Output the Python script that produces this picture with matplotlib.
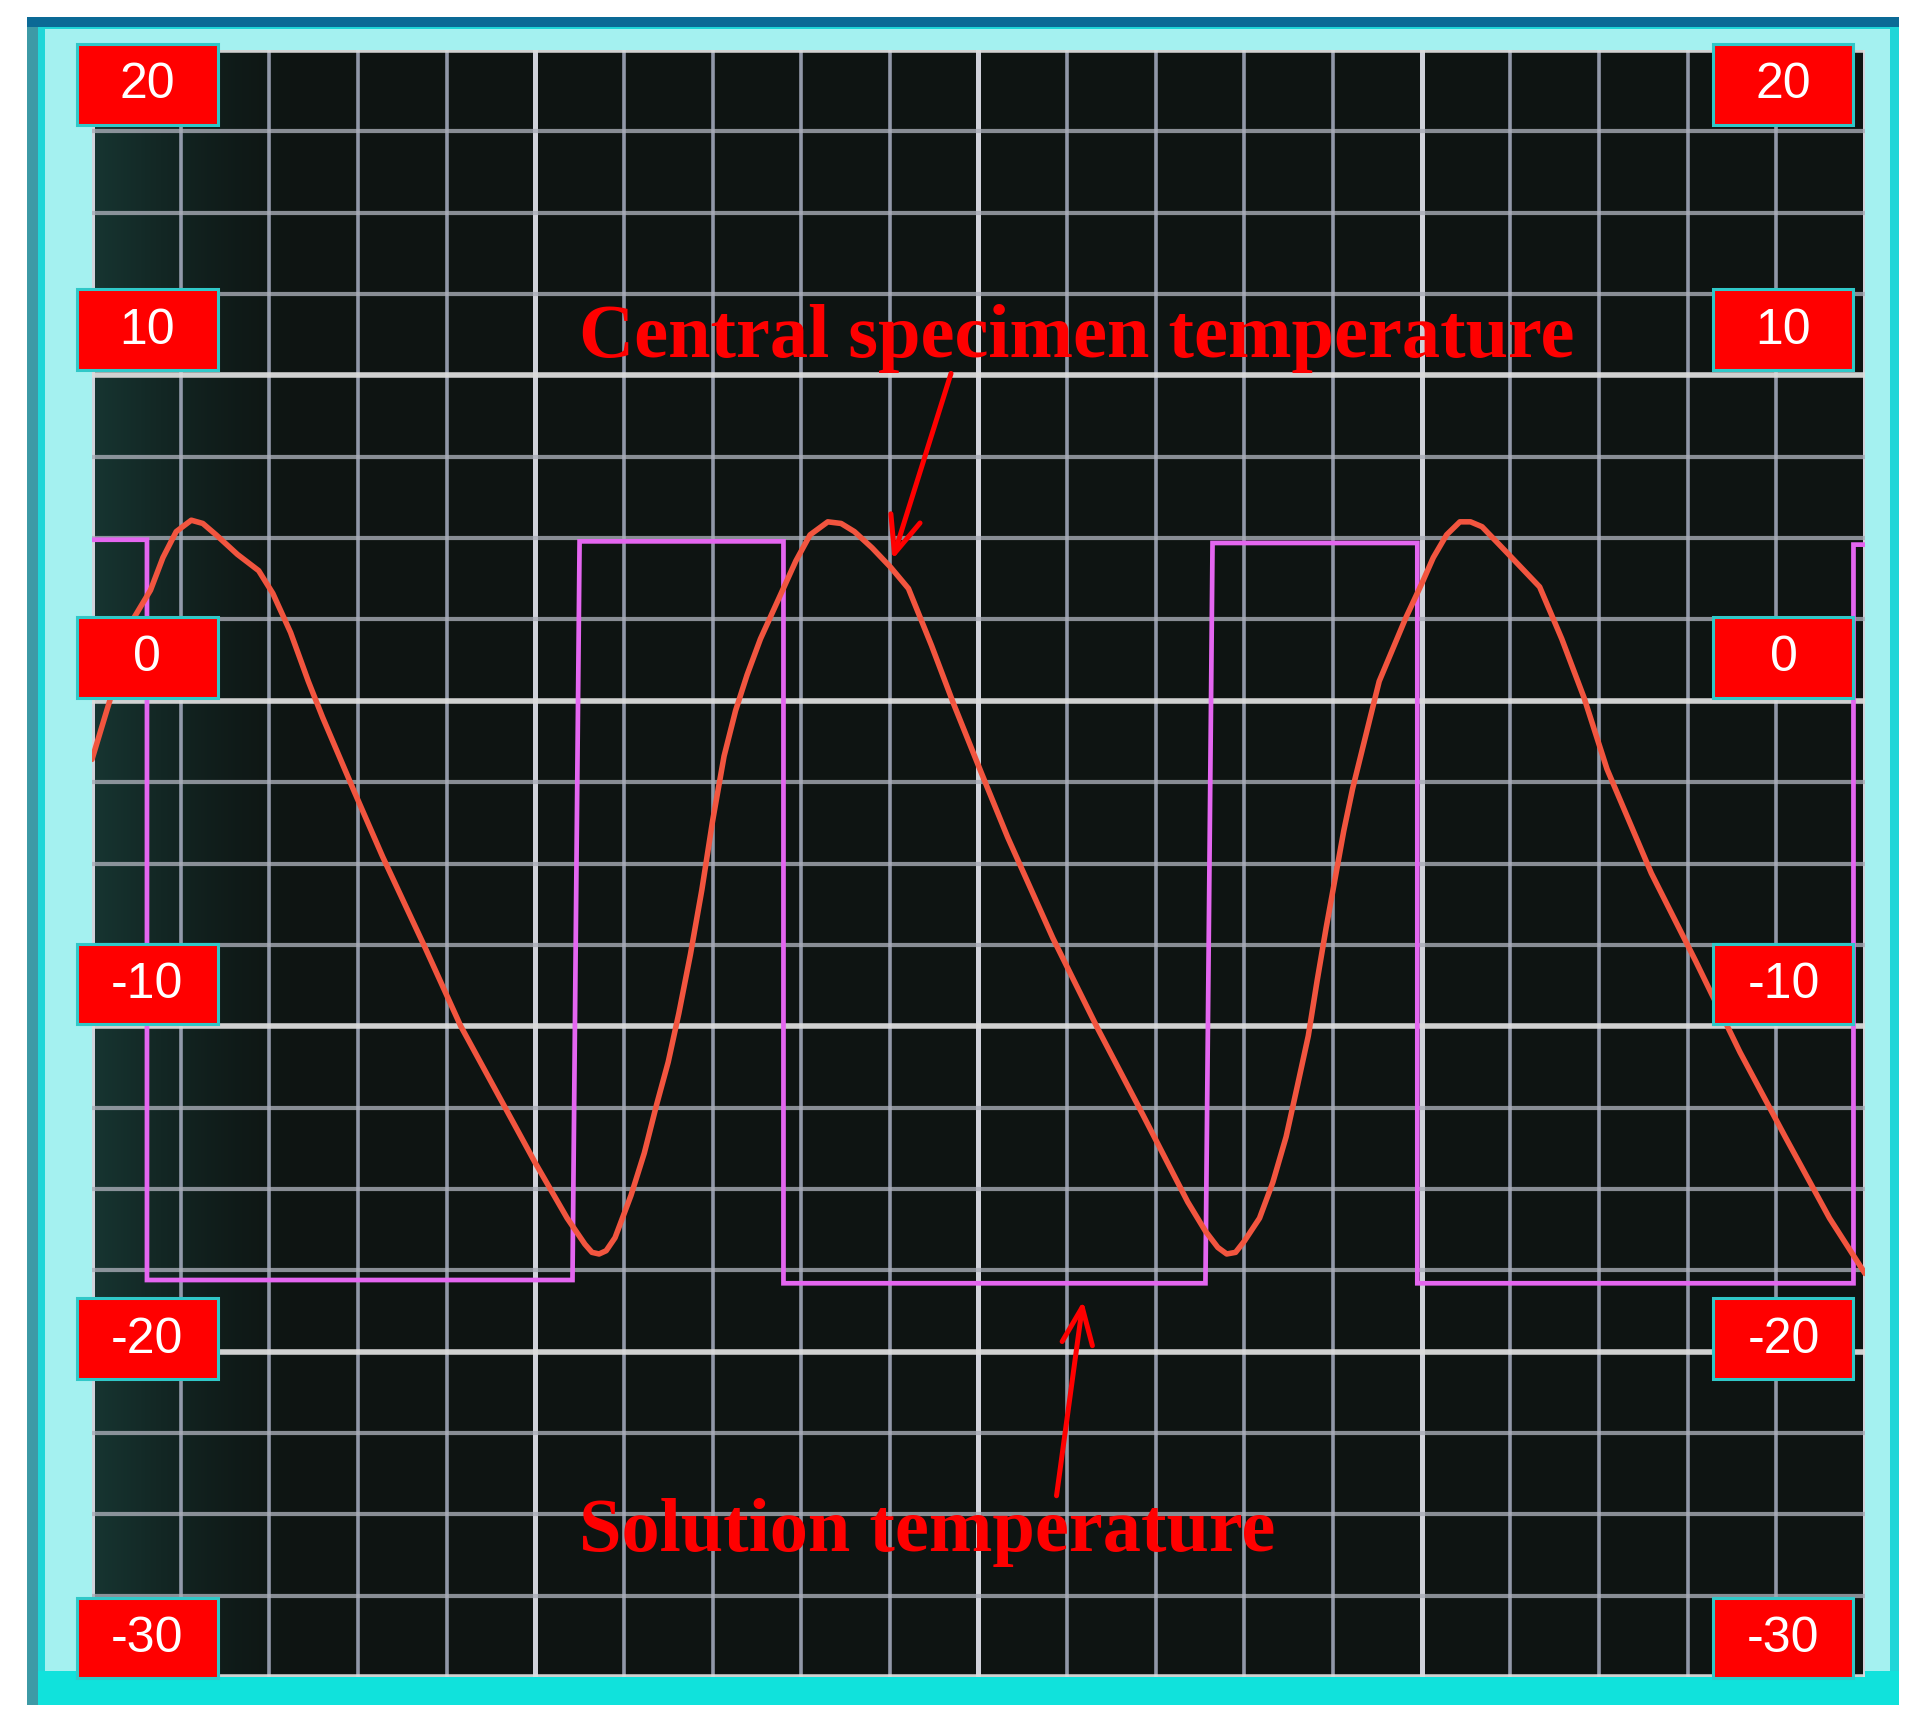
import matplotlib
matplotlib.use('Agg')
import matplotlib.pyplot as plt
from matplotlib.patches import Rectangle
import numpy as np

W, H = 1921, 1731
DPI = 100

# ---- data (x in horizontal divisions, y in degrees) ----
red_x = [0.0, 0.2, 0.44, 0.66, 0.8, 0.95, 1.12, 1.25, 1.4, 1.64, 1.88, 2.04, 2.24, 2.44, 2.6,
         2.96, 3.28, 3.76, 4.16, 4.56, 5.0, 5.36, 5.56, 5.64, 5.72, 5.8, 5.9, 6.08, 6.23,
         6.37, 6.5, 6.62, 6.75, 6.88, 7.0, 7.13, 7.26, 7.39, 7.54, 7.69, 7.94, 8.1,
         8.3, 8.45, 8.6, 8.8, 9.01, 9.21, 9.47, 9.72, 10.03, 10.33, 10.84, 11.35, 11.85,
         12.36, 12.56, 12.7, 12.8, 12.9, 13.0, 13.17, 13.32, 13.47, 13.6, 13.72, 13.82,
         13.92, 14.02, 14.12, 14.22, 14.32, 14.52, 14.82, 15.0, 15.13, 15.28, 15.43,
         15.55, 15.68, 15.98, 16.33, 16.58, 16.83, 17.09, 17.59, 18.09, 18.59, 19.1,
         19.6, 20.0]
red_y = [-1.8, 0.0, 2.4, 3.4, 4.4, 5.2, 5.55, 5.45, 5.1, 4.5, 4.0, 3.3, 2.1, 0.6, -0.5,
         -2.8, -4.8, -7.6, -10.0, -12.0, -14.2, -15.9, -16.7, -16.95, -17.0, -16.9, -16.5, -15.2,
         -13.9, -12.4, -11.1, -9.6, -7.8, -5.8, -3.7, -1.7, -0.3, 0.8, 1.9, 2.8, 4.3, 5.1,
         5.5, 5.45, 5.2, 4.7, 4.1, 3.45, 1.7, -0.1, -2.2, -4.2, -7.3, -10.1, -12.7,
         -15.4, -16.3, -16.8, -17.0, -16.95, -16.6, -15.9, -14.8, -13.4, -11.8, -10.3, -8.6,
         -7.0, -5.5, -4.0, -2.7, -1.6, 0.6, 2.55, 3.6, 4.4, 5.1, 5.5,
         5.5, 5.35, 4.5, 3.5, 1.9, 0.1, -2.1, -5.3, -8.0, -10.8, -13.4,
         -15.9, -17.6]

sq_x = [0.0, 0.62, 0.62, 5.42, 5.5, 7.8, 7.8, 12.56, 12.64, 14.95, 14.95, 19.87, 19.87, 20.0]
sq_y = [4.95, 4.95, -17.8, -17.8, 4.9, 4.9, -17.9, -17.9, 4.85, 4.85, -17.9, -17.9, 4.8, 4.8]

tick_labels = ['20', '10', '0', '-10', '-20', '-30']
label_centers = [18.94, 11.4, 1.34, -8.7, -19.6, -28.8]

text_central = 'Central specimen temperature'
text_solution = 'Solution temperature'

# ---- figure ----
fig = plt.figure(figsize=(W / DPI, H / DPI), dpi=DPI, facecolor='white')


def frect(x0, y0, x1, y1, color):
    fig.patches.append(Rectangle((x0 / W, 1 - y1 / H), (x1 - x0) / W, (y1 - y0) / H,
                                 transform=fig.transFigure, facecolor=color,
                                 edgecolor='none', zorder=-10))


# monitor frame
frect(27, 18, 1899, 1706, '#1fd6d8')
frect(27, 18, 38, 1706, '#3d9aa6')
frect(27, 18, 1899, 28, '#0b6a96')
frect(45, 30, 1890, 1675, '#a4f1f0')
frect(38, 1672, 1899, 1706, '#10e2dc')

ax = fig.add_axes([92 / W, 1 - 1678 / H, (1865 - 92) / W, (1678 - 51) / H])
ax.set_zorder(1)
ax.set_facecolor('#0e1412')
ax.set_xlim(0, 20)
ax.set_ylim(-30, 20)
for s in ax.spines.values():
    s.set_visible(False)
ax.set_xticks([])
ax.set_yticks([])

# faint teal screen glow on the left
ramp = np.linspace(1, 0, 256) ** 1.5
glow = np.zeros((1, 256, 4))
glow[..., 0] = 0.12
glow[..., 1] = 0.32
glow[..., 2] = 0.30
glow[..., 3] = 0.55 * ramp
ax.imshow(glow, extent=[0, 2.5, -30, 20], aspect='auto', zorder=0.5, interpolation='bilinear')

# grid
for i in range(21):
    major = i % 5 == 0
    ax.axvline(i, color='#dcdde6' if major else '#a9b0c4',
               lw=3.6 if major else 2.6, alpha=0.95 if major else 0.85, zorder=1)
for v in np.arange(-30, 20.01, 2.5):
    major = abs(v % 10) < 1e-6
    ax.axhline(v, color='#dcdcdc' if major else '#a8acb6',
               lw=4.0 if major else 3.0, alpha=0.95 if major else 0.8, zorder=1)

# traces
ax.plot(sq_x, sq_y, color='#e466f0', lw=3.4, zorder=3, solid_joinstyle='miter')
ax.plot(red_x, red_y, color='#f2553f', lw=4.0, zorder=4,
        solid_joinstyle='round', solid_capstyle='round')

# value boxes
for lab, yc in zip(tick_labels, label_centers):
    for x0, x1 in [(-0.17, 1.42), (18.29, 19.87)]:
        ax.add_patch(Rectangle((x0, yc - 1.24), x1 - x0, 2.48, facecolor='#ff0000',
                               edgecolor='#30c8c8', lw=2.2, clip_on=False, zorder=6))
        ax.text((x0 + x1) / 2, yc, lab, color='white', fontsize=36,
                family='Liberation Sans', ha='center', va='center',
                zorder=7, clip_on=False)

# annotations
ax.text(5.49, 10.6, text_central, color='#ff0000', fontsize=55,
        family='Liberation Serif', fontweight='bold', ha='left', va='baseline', zorder=8)
ax.text(5.49, -26.1, text_solution, color='#ff0000', fontsize=55,
        family='Liberation Serif', fontweight='bold', ha='left', va='baseline', zorder=8)

arrow_kw = dict(arrowstyle='->,head_length=1.2,head_width=0.5', color='#ff0000',
                lw=3.6, mutation_scale=22, shrinkA=0, shrinkB=0)
ax.annotate('', xy=(9.03, 4.34), xytext=(9.69, 10.06), arrowprops=arrow_kw, zorder=8)
ax.annotate('', xy=(11.18, -18.44), xytext=(10.88, -24.43), arrowprops=arrow_kw, zorder=8)

fig.savefig('out.png', dpi=DPI, facecolor='white')
